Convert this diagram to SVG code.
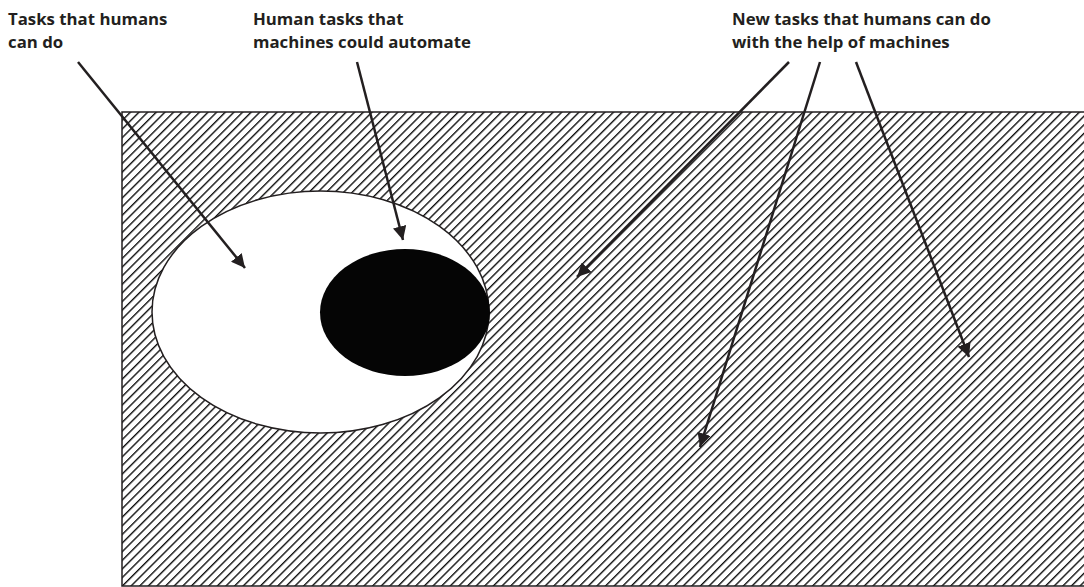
<svg xmlns="http://www.w3.org/2000/svg" width="1084" height="587" viewBox="0 0 1084 587">
<style>
.lbl{font-family:"Open Sans","Noto Sans","Liberation Sans",sans-serif;font-weight:bold;font-size:16.8px;fill:#231f20}
.con{stroke:#231f20;stroke-width:2.5;fill:none;marker-end:url(#ah)}
</style>
<defs>
<pattern id="hatch" patternUnits="userSpaceOnUse" width="6.1" height="6.1" patternTransform="rotate(45)">
<rect width="6.1" height="6.1" fill="#fff"/>
<line x1="0" y1="0" x2="0" y2="6.1" stroke="#111" stroke-width="2.8"/>
</pattern>
<marker id="ah" viewBox="0 0 10 10" refX="10" refY="5" markerWidth="5.5" markerHeight="5.5" orient="auto" markerUnits="strokeWidth">
<path d="M0,0 L10,5 L0,10 Z" fill="#231f20"/>
</marker>
</defs>
<rect width="1084" height="587" fill="#fff"/>
<g id="new-tasks-area">
<rect x="122" y="112" width="980" height="474" fill="url(#hatch)" stroke="#231f20" stroke-width="1.5"/>
</g>
<g id="human-tasks">
<ellipse cx="320.5" cy="312" rx="168.5" ry="121" fill="#fff" stroke="#231f20" stroke-width="1.5"/>
</g>
<g id="automatable-tasks">
<ellipse cx="405" cy="312.5" rx="85" ry="63.5" fill="#050505"/>
</g>
<g id="labels">
<text class="lbl" x="8" y="25">Tasks that humans</text>
<text class="lbl" x="8" y="48">can do</text>
<text class="lbl" x="253" y="25">Human tasks that</text>
<text class="lbl" x="253" y="48">machines could automate</text>
<text class="lbl" x="732" y="25">New tasks that humans can do</text>
<text class="lbl" x="732" y="48">with the help of machines</text>
</g>
<g id="connectors">
<line class="con" x1="78" y1="62" x2="245" y2="268"/>
<line class="con" x1="357" y1="62" x2="403" y2="240"/>
<line class="con" x1="789" y1="62" x2="577" y2="277"/>
<line class="con" x1="820" y1="62" x2="700" y2="447"/>
<line class="con" x1="856" y1="62" x2="969" y2="357"/>
</g>
</svg>
